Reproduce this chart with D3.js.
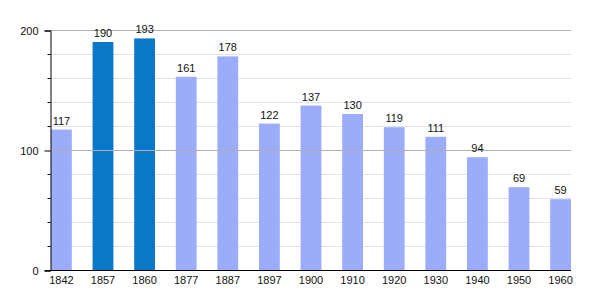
<!DOCTYPE html>
<html><head><meta charset="utf-8">
<script src="https://cdn.jsdelivr.net/npm/d3@7"></script>
<style>body{margin:0;background:#fff}text{font-family:"Liberation Sans",Arial,sans-serif}</style>
</head><body><svg id="c" width="600" height="300"></svg>
<script>
const years = ["1842","1857","1860","1877","1887","1897","1900","1910","1920","1930","1940","1950","1960"];
const population = [117,190,193,161,178,122,137,130,119,111,94,69,59];
const highlighted = ["1857","1860"];
const majorTicks = [0,100,200];
const minorTicks = [20,40,60,80,120,140,160,180];

(function(){
const svg = d3.select("#c");
const mLeft = 50, mRight = 571, mTop = 30, mBottom = 270;
const x = d3.scaleBand().domain(years).range([mLeft+1, mRight]).paddingInner(0.5).paddingOuter(0).align(0);
const y = d3.scaleLinear().domain([0,200]).range([mBottom, mTop]);

// minor gridlines
svg.append("g").selectAll("line").data(minorTicks).join("line")
  .attr("x1", mLeft).attr("x2", mRight).attr("y1", d=>y(d)+0.5).attr("y2", d=>y(d)+0.5)
  .attr("stroke", "#e2e2e2").attr("stroke-width", 1);

// bars
svg.append("g").selectAll("rect").data(years).join("rect")
  .attr("x", d=>x(d)).attr("width", x.bandwidth())
  .attr("y", (d,i)=>y(population[i])).attr("height", (d,i)=>mBottom - y(population[i]))
  .attr("fill", d=> highlighted.includes(d) ? "#0a78c8" : "#9bacfa");

// major gridlines
svg.append("g").selectAll("line").data([100,200]).join("line")
  .attr("x1", mLeft).attr("x2", mRight).attr("y1", d=>y(d)+0.5).attr("y2", d=>y(d)+0.5)
  .attr("stroke", "#b0b0b0").attr("stroke-width", 1);

// value labels
svg.append("g").selectAll("text").data(years).join("text")
  .attr("x", d=>x(d)+x.bandwidth()/2).attr("y", (d,i)=>y(population[i])-5)
  .attr("text-anchor","middle").attr("font-size", 11).attr("fill","#111")
  .text((d,i)=>population[i]);

// y axis
const ya = d3.axisLeft(y).tickValues(majorTicks).tickSize(6).tickPadding(6);
const gy = svg.append("g").attr("transform", `translate(${mLeft+0.5},0.5)`).call(ya);
gy.select(".domain").attr("stroke","#000");
gy.selectAll(".tick line").attr("stroke","#000");
gy.selectAll("text").attr("font-size", 11).attr("fill","#111").attr("font-family",'"Liberation Sans",Arial,sans-serif');
gy.append("g").selectAll("line").data(minorTicks).join("line")
  .attr("x1",-3).attr("x2",0).attr("y1",d=>y(d)).attr("y2",d=>y(d)).attr("stroke","#000");

// x axis
const xa = d3.axisBottom(x).tickSize(0).tickPadding(6);
const gx = svg.append("g").attr("transform", `translate(0,${mBottom+0.5})`).call(xa);
gx.select(".domain").remove();
gx.append("line").attr("x1", mLeft-5).attr("x2", mRight).attr("stroke","#000");
gx.selectAll("text").attr("font-size", 11).attr("fill","#111").attr("font-family",'"Liberation Sans",Arial,sans-serif');
})();
</script></body></html>
